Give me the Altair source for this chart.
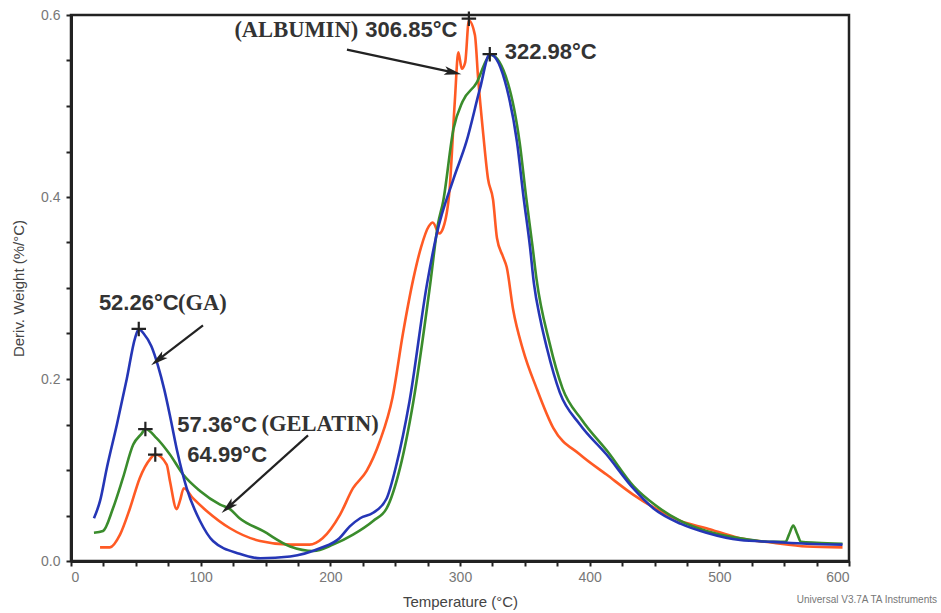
import math
import altair as alt
import pandas as pd

# ---------------- data ----------------
ga_T = [17.7, 22.4, 27.6, 35.4, 43, 49.4, 52.26, 56, 62, 67, 72, 77, 82, 89.2, 99.5, 109.5, 130,
        146, 169, 192, 207, 215, 223, 233, 243.5, 251, 261, 274.5, 282, 295, 305, 315.4, 322.98,
        336, 344, 349, 354, 357, 362, 367, 377, 392.5, 413, 433.5, 449, 470, 490, 516, 541.5, 567.5, 595]
ga_v = [0.047, 0.066, 0.102, 0.150, 0.200, 0.245, 0.255, 0.250, 0.236, 0.215, 0.188, 0.155, 0.120, 0.080, 0.044, 0.022, 0.008,
        0.003, 0.005, 0.014, 0.025, 0.038, 0.047, 0.053, 0.069, 0.106, 0.175, 0.304, 0.359, 0.420, 0.461, 0.519, 0.557,
        0.520, 0.460, 0.400, 0.345, 0.305, 0.265, 0.234, 0.185, 0.150, 0.117, 0.080, 0.058, 0.041, 0.031, 0.023, 0.021, 0.019, 0.018]

gel_T = [17.7, 24.7, 32.4, 40, 48, 54.5, 57.36, 66, 76.3, 86.5, 99.5, 115, 122.6, 130, 148, 169, 187, 202,
         217.5, 233, 243.5, 253.7, 264, 277, 283, 287, 295, 302, 313, 321, 324, 337, 346, 351, 356, 359,
         369, 379, 394, 414, 434, 450, 470, 490, 516, 541, 551, 554, 557, 560, 563, 575, 595]
gel_v = [0.031, 0.033, 0.058, 0.091, 0.128, 0.140, 0.145, 0.135, 0.117, 0.095, 0.077, 0.062, 0.057, 0.047, 0.033, 0.016, 0.011, 0.018,
         0.029, 0.044, 0.058, 0.102, 0.175, 0.304, 0.370, 0.395, 0.475, 0.505, 0.526, 0.552, 0.556, 0.525, 0.460, 0.400, 0.345, 0.310,
         0.240, 0.190, 0.155, 0.120, 0.082, 0.062, 0.044, 0.033, 0.025, 0.021, 0.021, 0.030, 0.039, 0.030, 0.021, 0.020, 0.019]

alb_T = [22.4, 30, 37.8, 45.5, 53, 61, 64.99, 73.8, 76.3, 81.5, 84, 87, 94, 104.6, 122.6, 145.8, 169, 184, 194,
         207.5, 217.5, 228, 238, 248, 256, 264, 270, 276, 279, 284, 287, 292, 296, 298.7, 301.4, 304, 306.85, 311.5,
         314, 318, 321.6, 325.5, 328.5, 333, 336, 341, 348.6, 359, 372, 392.5, 413, 433.5, 459.6, 470, 490,
         516, 541.5, 567.5, 595]
alb_v = [0.015, 0.015, 0.029, 0.058, 0.091, 0.112, 0.117, 0.106, 0.088, 0.057, 0.066, 0.080, 0.069, 0.055, 0.036, 0.022, 0.018, 0.018, 0.025,
         0.051, 0.080, 0.099, 0.131, 0.180, 0.250, 0.310, 0.345, 0.368, 0.372, 0.360, 0.366, 0.409, 0.505, 0.559, 0.541, 0.548, 0.594, 0.578,
         0.530, 0.468, 0.420, 0.397, 0.355, 0.335, 0.323, 0.276, 0.232, 0.190, 0.146, 0.117, 0.095, 0.073, 0.051, 0.044, 0.036,
         0.025, 0.020, 0.016, 0.015]

series_names = ["ALBUMIN", "GELATIN", "GA"]
series_colors = ["#ff5a24", "#3a8c2c", "#2536b6"]

# peak markers (+)
peak_T = [52.26, 57.36, 64.99, 306.85, 322.98]
peak_v = [0.255, 0.145, 0.117, 0.596, 0.557]

# annotation texts (left edge, vertical centre), in data units
sans_text = ["52.26°C", "57.36°C", "64.99°C", "306.85°C", "322.98°C"]
sans_T = [21.5, 82.0, 89.7, 227.0, 334.5]
sans_v = [0.283, 0.149, 0.116, 0.584, 0.559]
serif_text = ["(GA)", "(GELATIN)", "(ALBUMIN)"]
serif_T = [82.5, 147.0, 126.0]
serif_v = [0.283, 0.151, 0.584]

# arrows: start -> tip
arrow_T = [101.8, 182.8, 212.8]
arrow_v = [0.259, 0.138, 0.562]
arrow_T2 = [67.1, 121.1, 294.6]
arrow_v2 = [0.221, 0.059, 0.537]

# ---------------- layout ----------------
W, H = 778, 546
XMAX, YMAX = 600, 0.6

x_scale = alt.Scale(domain=[0, XMAX], nice=False, zero=False)
y_scale = alt.Scale(domain=[0, YMAX], nice=False, zero=False)

x_enc = alt.X("T:Q", scale=x_scale, title="Temperature (°C)",
              axis=alt.Axis(values=list(range(0, 601, 25)),
                            labelExpr="datum.value % 100 == 0 ? datum.label : ''",
                            grid=False, tickSize=5, tickWidth=2, tickColor="#222",
                            domainColor="#222", domainWidth=3,
                            labelFont="Liberation Sans", labelFontSize=14, labelColor="#777",
                            labelPadding=4, titleFont="Liberation Sans", titleFontSize=15,
                            titleFontWeight="normal", titleColor="#444", titlePadding=10))
y_enc = alt.Y("v:Q", scale=y_scale, title="Deriv. Weight (%/°C)",
              axis=alt.Axis(values=[round(i * 0.05, 2) for i in range(13)],
                            labelExpr="round(datum.value*100) % 20 == 0 ? format(datum.value, '.1f') : ''",
                            grid=False, tickSize=5, tickWidth=2, tickColor="#222",
                            domainColor="#222", domainWidth=3,
                            labelFont="Liberation Sans", labelFontSize=14, labelColor="#777",
                            labelPadding=6, titleFont="Liberation Sans", titleFontSize=15,
                            titleFontWeight="normal", titleColor="#444", titlePadding=14))


def curve(T, v, name, color):
    d = pd.DataFrame({"T": T, "v": v, "idx": range(len(T)), "series": name})
    return alt.Chart(d).mark_line(color=color, strokeWidth=2.6, interpolate="monotone").encode(
        x=x_enc, y=y_enc, order="idx:Q")


layers = [
    curve(alb_T, alb_v, series_names[0], series_colors[0]),
    curve(gel_T, gel_v, series_names[1], series_colors[1]),
    curve(ga_T, ga_v, series_names[2], series_colors[2]),
]

peaks = alt.Chart(pd.DataFrame({"T": peak_T, "v": peak_v})).mark_point(
    shape="M-1,0L1,0M0,-1L0,1", filled=False, stroke="#222", strokeWidth=2.2, size=210, opacity=1
).encode(x=x_enc, y=y_enc)

kx, ky = W / XMAX, H / YMAX
ang = [math.degrees(math.atan2(-(v2 - v1) * ky, (t2 - t1) * kx)) % 360
       for t1, v1, t2, v2 in zip(arrow_T, arrow_v, arrow_T2, arrow_v2)]
arr_df = pd.DataFrame({"T": arrow_T, "v": arrow_v, "T2": arrow_T2, "v2": arrow_v2})
head_df = pd.DataFrame({"T": arrow_T2, "v": arrow_v2, "ang": ang})

arrow_lines = alt.Chart(arr_df).mark_rule(color="#222", strokeWidth=2.2).encode(
    x=x_enc, y=y_enc, x2="T2:Q", y2="v2:Q")
arrow_heads = alt.Chart(head_df).mark_point(
    shape="M1,0L-1,-0.5L-0.55,0L-1,0.5Z", filled=True, color="#222", size=300, opacity=1
).encode(x=x_enc, y=y_enc, angle=alt.Angle("ang:Q", scale=None))

sans = alt.Chart(pd.DataFrame({"T": sans_T, "v": sans_v, "txt": sans_text})).mark_text(
    font="Liberation Sans", fontSize=22, fontWeight="bold", color="#333", align="left", baseline="middle"
).encode(x=x_enc, y=y_enc, text="txt:N")
serif = alt.Chart(pd.DataFrame({"T": serif_T, "v": serif_v, "txt": serif_text})).mark_text(
    font="Liberation Serif", fontSize=22.5, fontWeight="bold", color="#333", align="left", baseline="middle"
).encode(x=x_enc, y=y_enc, text="txt:N")

credit = alt.Chart(pd.DataFrame({"txt": ["Universal V3.7A TA Instruments"]})).mark_text(
    font="Liberation Sans", fontSize=10, color="#777", align="right", baseline="middle"
).encode(x=alt.value(866), y=alt.value(585), text="txt:N")

chart = alt.layer(*layers, peaks, arrow_lines, arrow_heads, sans, serif, credit).properties(
    width=W, height=H,
    autosize=alt.AutoSizeParams(type="none"),
    padding={"left": 71, "top": 15, "right": 92, "bottom": 52},
    background="white",
).configure_view(stroke="#222", strokeWidth=2.5)

chart.save("out.html", embed_options={"renderer": "svg", "actions": False})
